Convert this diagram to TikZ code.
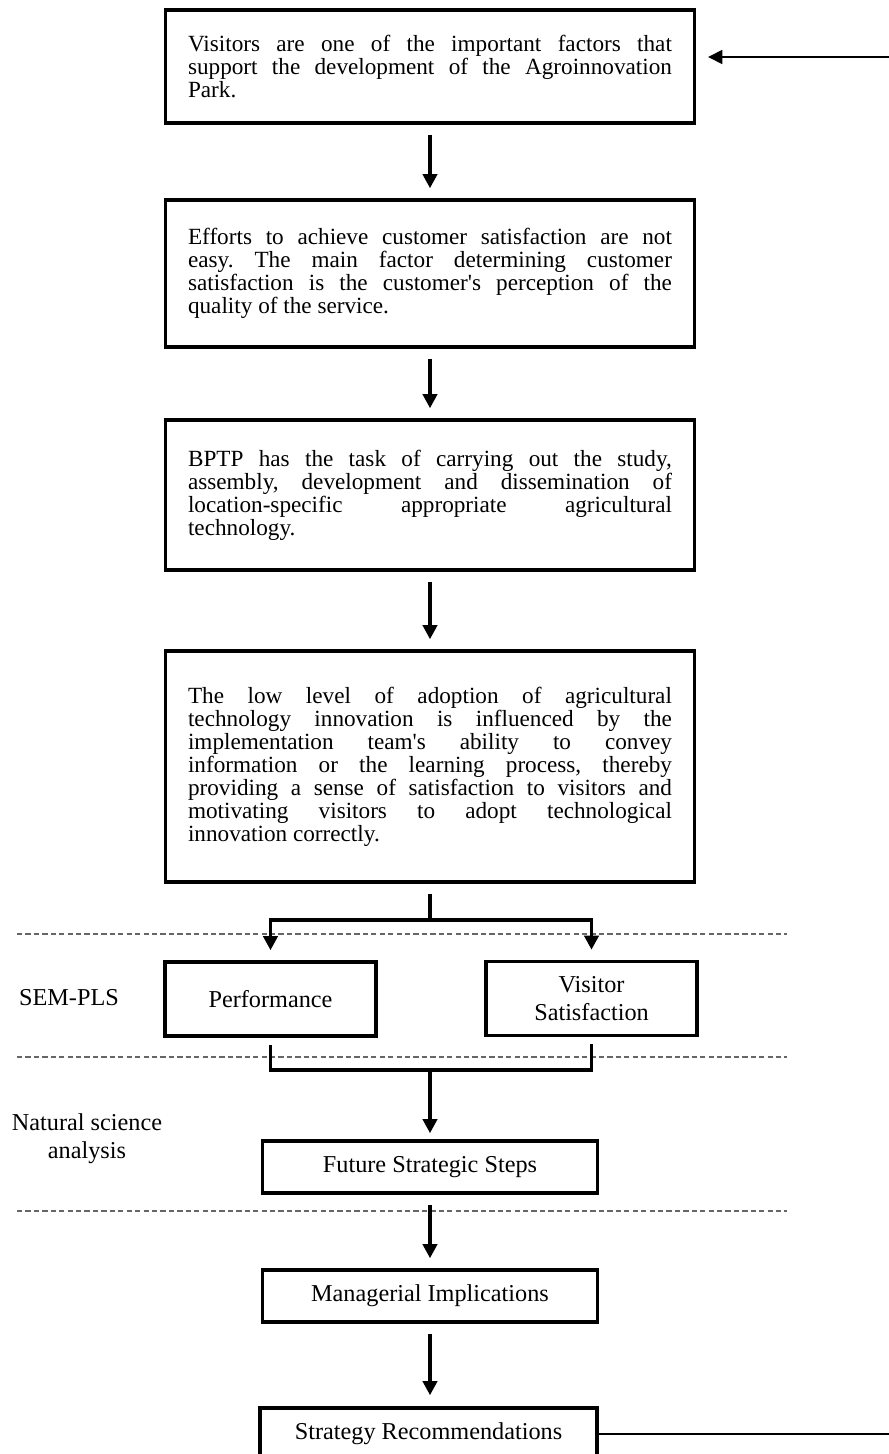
\documentclass[tikz,border=0pt]{standalone}
\usepackage{fontspec}
\setmainfont{Liberation Serif}
\usetikzlibrary{arrows.meta}
\begin{document}
\frenchspacing
\begin{tikzpicture}[x=0.02cm,y=-0.02cm,>={Triangle[length=8pt,width=8pt]},font=\fontsize{13.8}{16}\selectfont,
	txtbox/.style={draw,line width=2pt,text width=9.68cm,align=justify,inner xsep=0.45cm,inner ysep=0pt,font=\fontsize{13.2}{13.1}\selectfont},
	smallbox/.style={draw,line width=2pt,align=center,inner sep=0pt},
	flow/.style={line width=2pt},
	sep/.style={draw=black!60,line width=0.8pt,dash pattern=on 3pt off 1.8pt}]
	\useasboundingbox (0,0) rectangle (889,1454);
	% statements
	\node[txtbox,minimum height=2.26cm] (b1) at (430,66.5) {Visitors are one of the important factors that\linebreak support the development of the Agroinnovation\linebreak Park.};
	\node[txtbox,minimum height=2.94cm] (b2) at (430,273.5) {Efforts to achieve customer satisfaction are not\linebreak easy. The main factor determining customer\linebreak satisfaction is the customer\textquotesingle s perception of the\linebreak quality of the service.};
	\node[txtbox,minimum height=3cm] (b3) at (430,495) {BPTP has the task of carrying out the study,\linebreak assembly, development and dissemination of\linebreak location-specific appropriate agricultural\linebreak technology.};
	\node[txtbox,minimum height=4.62cm] (b4) at (430,766.5) {The low level of adoption of agricultural\linebreak technology innovation is influenced by the\linebreak implementation team\textquotesingle s ability to convey\linebreak information or the learning process, thereby\linebreak providing a sense of satisfaction to visitors and\linebreak motivating visitors to adopt technological\linebreak innovation correctly.};
	% variables
	\node[smallbox,minimum width=4.22cm,minimum height=1.48cm] (perf) at (270.5,999) {Performance};
	\node[smallbox,minimum width=4.22cm,minimum height=1.48cm] (visit) at (591.5,998.5) {Visitor\\Satisfaction};
	\node[smallbox,minimum width=6.7cm,minimum height=1.04cm] (fss) at (430,1167) {Future Strategic Steps};
	\node[smallbox,minimum width=6.7cm,minimum height=1.04cm] (mi) at (430,1296) {Managerial Implications};
	\node[smallbox,minimum width=6.74cm,minimum height=1.04cm] (sr) at (428.5,1434) {Strategy Recommendations};
	% stage labels
	\node[align=center] (sem) at (69,998) {SEM-PLS};
	\node[align=center] (nsa) at (87,1139) {Natural science\\analysis};
	% separators
	\draw[sep] (17,934) -- (787,934);
	\draw[sep] (17,1057) -- (787,1057);
	\draw[sep] (17,1211) -- (787,1211);
	% arrows
	\draw[flow,->,shorten <=0.2cm,shorten >=0.2cm] (b1) -- (b2);
	\draw[flow,->,shorten <=0.2cm,shorten >=0.2cm] (b2) -- (b3);
	\draw[flow,->,shorten <=0.2cm,shorten >=0.2cm] (b3) -- (b4);
	\coordinate (split) at (430,920);
	\draw[flow,shorten <=0.2cm] (b4.south) -- (split);
	\draw[flow,->,shorten >=0.2cm] (split) -| (perf.north);
	\draw[flow,->,shorten >=0.2cm] (split) -| (visit.north);
	\coordinate (merge) at (430,1070);
	\draw[flow,shorten <=0.14cm] (perf.south) |- (merge);
	\draw[flow,shorten <=0.14cm] (visit.south) |- (merge);
	\draw[flow,->,shorten >=0.12cm] (merge) -- (fss.north);
	\draw[flow,->,shorten <=0.2cm,shorten >=0.2cm] (fss) -- (mi);
	\draw[flow,->,shorten <=0.2cm,shorten >=0.22cm] (mi.south) -- (mi.south |- sr.north);
	% feedback
	\coordinate (outB) at (889,1434);
	\coordinate (outT) at (889,57);
	\draw[line width=0.8pt] (sr.east) -- (outB);
	\draw[line width=0.8pt,->,shorten >=0.24cm] (outT) -- (b1.east |- outT);
\end{tikzpicture}
\end{document}
